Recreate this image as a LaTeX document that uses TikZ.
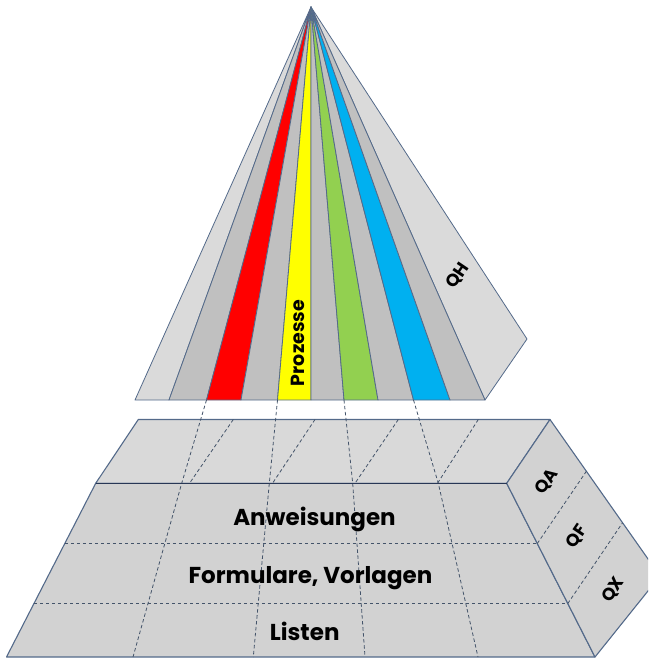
\documentclass[tikz,border=0pt]{standalone}
\usepackage{fontspec}
\setmainfont{Poppins}
\usetikzlibrary{calc}
\definecolor{lightg}{RGB}{218,218,218}
\definecolor{midg}{RGB}{192,192,192}
\definecolor{boxg}{RGB}{210,210,210}
\definecolor{topg}{RGB}{217,217,217}
\definecolor{edgecol}{RGB}{84,106,138}
\definecolor{dashcol}{RGB}{68,84,106}
\definecolor{pred}{RGB}{255,0,0}
\definecolor{pyellow}{RGB}{255,255,0}
\definecolor{pgreen}{RGB}{146,208,80}
\definecolor{pblue}{RGB}{0,176,240}
\begin{document}
\begin{tikzpicture}[x=1pt,y=-1pt,
  edge/.style={draw=edgecol, line width=0.8pt, line join=round},
  boxedge/.style={draw=edgecol, line width=1.1pt, line join=round},
  gridline/.style={draw=dashcol, line width=0.8pt, dash pattern=on 3.5pt off 2.5pt},
  biglbl/.style={font=\bfseries\fontsize{23}{23}\selectfont, text=black, anchor=base, inner sep=0pt},
  sidelbl/.style={font=\bfseries\fontsize{17.5}{17.5}\selectfont, text=black, rotate=56, inner sep=0pt}]
\useasboundingbox (0,0) rectangle (648,658);
\clip (0,0) rectangle (648,658);
% ---------- pyramid ----------
\coordinate (apex) at (311,7);
\coordinate (qhv) at (527,339);
\foreach \i/\x in {0/135,1/169,2/206.5,3/241,4/277.5,5/311,6/344,7/378,8/413.5,9/450,10/485}
  \coordinate (b\i) at (\x,400);
\filldraw[edge, fill=lightg] (apex) -- (qhv) -- (b10) -- cycle;
\foreach \a/\b/\c in {0/1/lightg,1/2/midg,2/3/pred,3/4/midg,4/5/pyellow,5/6/midg,6/7/pgreen,7/8/midg,8/9/pblue,9/10/midg}
  \filldraw[edge, fill=\c] (apex) -- (b\a) -- (b\b) -- cycle;
% ---------- box ----------
\coordinate (T1) at (138.3,419.5);
\coordinate (T2) at (550,419.5);
\coordinate (F1) at (95.7,483.3);
\coordinate (F2) at (506.7,483.3);
\coordinate (B1) at (6.5,657);
\coordinate (B2) at (595,657);
\coordinate (R)  at (660,576);
\filldraw[boxedge, fill=topg] (T1) -- (T2) -- (F2) -- (F1) -- cycle;
\filldraw[boxedge, fill=boxg] (F1) -- (F2) -- (B2) -- (B1) -- cycle;
\filldraw[boxedge, fill=boxg] (T2) -- (R) -- (B2) -- (F2) -- cycle;
% rows on front face
\coordinate (L1) at ($(F1)!0.3466!(B1)$);
\coordinate (L2) at ($(F1)!0.692!(B1)$);
\coordinate (M1) at ($(F2)!0.3466!(B2)$);
\coordinate (M2) at ($(F2)!0.692!(B2)$);
\draw[gridline] (L1) -- (M1);
\draw[gridline] (L2) -- (M2);
% side face divisions
\coordinate (S1) at (586.4,471.2);
\coordinate (S2) at (622.6,522.7);
\draw[gridline] (M1) -- (S1);
\draw[gridline] (M2) -- (S2);
% depth lines on top face
\foreach \t/\u [count=\k] in {233.3/189.5, 315/272.5, 398.3/355, 478.3/437.5} {
  \coordinate (dt\k) at (\t,419.5);
  \coordinate (db\k) at (\u,483.3);
  \draw[gridline] (dt\k) -- (db\k);
}
% projection lines from pyramid
\coordinate (p1a) at (181.7,483.3); \coordinate (p1b) at (133,657);
\coordinate (p2a) at (269.3,483.3); \coordinate (p2b) at (253.3,657);
\coordinate (p3a) at (352.7,483.3); \coordinate (p3b) at (365,657);
\coordinate (p4a) at (438.3,483.3); \coordinate (p4b) at (478,657);
\draw[gridline] (b2) -- (p1a) -- (p1b);
\draw[gridline] (b4) -- (p2a) -- (p2b);
\draw[gridline] (b6) -- (p3a) -- (p3b);
\draw[gridline] (b8) -- (p4a) -- (p4b);
% edge between top face and front face
\draw[boxedge, draw={rgb,255:red,40;green,55;blue,85}] (F1) -- (F2);
% ---------- labels ----------
\node[font=\bfseries\fontsize{19}{19}\selectfont, rotate=90, inner sep=0pt] (proz) at (297.5,343) {Prozesse};
\node[sidelbl] (qh) at (458,276) {QH};
\node[sidelbl] (qa) at (546.7,481.7) {QA};
\node[sidelbl] (qf) at (576.7,536.7) {QF};
\node[sidelbl] (qx) at (613.3,590) {QX};
\node[biglbl] (anw) at (314.5,525) {Anweisungen};
\node[biglbl] (form) at (310.5,583.3) {Formulare, Vorlagen};
\node[biglbl] (list) at (304.7,640) {Listen};
\end{tikzpicture}
\end{document}
